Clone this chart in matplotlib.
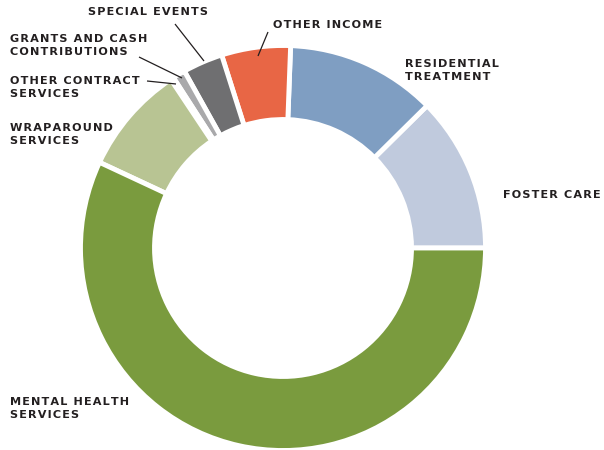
"""Donut chart of revenue sources, recreated from the reference picture."""

import matplotlib

matplotlib.use("Agg")
import matplotlib.pyplot as plt

# shares of total revenue (percent), counter-clockwise from 3 o'clock
sources = [
    "FOSTER CARE",
    "RESIDENTIAL\nTREATMENT",
    "OTHER INCOME",
    "SPECIAL EVENTS",
    "GRANTS AND CASH\nCONTRIBUTIONS",
    "OTHER CONTRACT\nSERVICES",
    "WRAPAROUND\nSERVICES",
    "MENTAL HEALTH\nSERVICES",
]
shares = [12.4, 12.0, 5.5, 3.2, 1.0, 0.25, 8.7, 56.95]
colors = ["#c0cadd", "#7f9ec2", "#e86645", "#6f6f71",
          "#a9a9ab", "#b0b0b2", "#b8c493", "#7a9b3e"]

W, H = 604, 450
TEXT = "#231f20"

fig = plt.figure(figsize=(W / 100, H / 100), dpi=100)
ax = fig.add_axes([0, 0, 1, 1])
ax.set_xlim(0, W)
ax.set_ylim(0, H)
ax.axis("off")

# pixel coords from the top of the image -> data coords
def py(y):
    return H - y

# the reference lettering is tracked out; fake it with hair spaces
def tracked(s):
    return "\n".join("\u200a".join(line) for line in s.split("\n"))

ax.pie(shares, colors=colors, startangle=0, counterclock=True,
       center=(283, py(248)), radius=202.5,
       wedgeprops=dict(width=74, edgecolor="white", linewidth=3.5))
ax.set_xlim(0, W)
ax.set_ylim(0, H)
ax.set_aspect("equal")

# label anchor (left, top) in image pixels
label_pos = {
    "FOSTER CARE": (503, 191),
    "RESIDENTIAL\nTREATMENT": (405, 60),
    "OTHER INCOME": (273, 21),
    "SPECIAL EVENTS": (88, 8),
    "GRANTS AND CASH\nCONTRIBUTIONS": (10, 35),
    "OTHER CONTRACT\nSERVICES": (10, 77),
    "WRAPAROUND\nSERVICES": (10, 124),
    "MENTAL HEALTH\nSERVICES": (10, 398),
}
for name in sources:
    x, y = label_pos[name]
    ax.text(x, py(y) + 1, tracked(name), ha="left", va="top", fontsize=8.1,
            fontweight="bold", color=TEXT, linespacing=1.38)

# leader lines for the small slices
leaders = [
    ((175, 24), (204, 61)),
    ((268, 32), (258, 56)),
    ((139, 57), (182, 78)),
    ((147, 81), (176, 84)),
]
for (x0, y0), (x1, y1) in leaders:
    ax.plot([x0, x1], [py(y0), py(y1)], color=TEXT, lw=0.9,
            solid_capstyle="butt")

fig.savefig("out.png", dpi=100)
plt.close(fig)
